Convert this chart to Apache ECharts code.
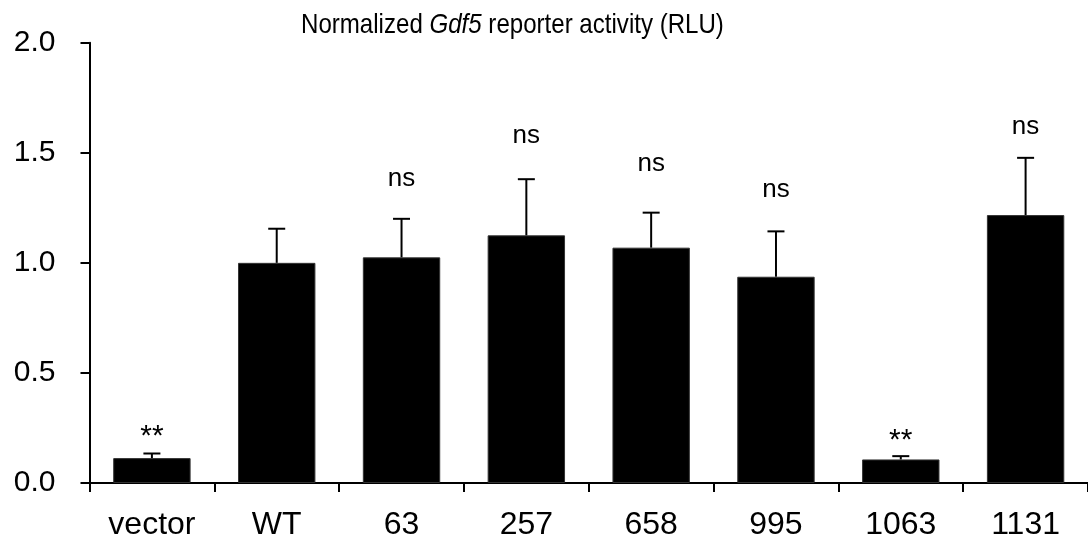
<!DOCTYPE html>
<html>
<head>
<meta charset="utf-8">
<script src="https://cdn.jsdelivr.net/npm/echarts@6/dist/echarts.min.js"></script>
<style>html,body{margin:0;padding:0;background:#fff;}#c{width:1088px;height:541px;}</style>
</head>
<body>
<div id="c"></div>
<script>
const categories = ['vector', 'WT', '63', '257', '658', '995', '1063', '1131'];
const means = [0.113, 1.0, 1.025, 1.125, 1.069, 0.937, 0.107, 1.217];
const errorTops = [0.134, 1.155, 1.20, 1.38, 1.228, 1.143, 0.122, 1.477];
const annotText = ['**', '', 'ns', 'ns', 'ns', 'ns', '**', 'ns'];
const annotY = [0.208, null, 1.381, 1.579, 1.451, 1.330, 0.193, 1.618];
const yTicks = [0, 0.5, 1.0, 1.5, 2.0];

const FONT = '"Liberation Sans", Arial, Helvetica, sans-serif';
const chart = echarts.init(document.getElementById('c'), null, {renderer: 'canvas'});

const errData = categories.map((c, i) => [i, means[i], errorTops[i]]);
const annData = categories.map((c, i) => [i, annotY[i], annotText[i]]).filter(d => d[2]);

chart.setOption({
  animation: false,
  backgroundColor: '#fff',
  graphic: [{
    type: 'text',
    x: 301, y: 11,
    scaleX: 0.86,
    originX: 0, originY: 0,
    style: {
      text: '{n|Normalized }{i|Gdf5}{n| reporter activity (RLU)}',
      fill: '#000',
      font: '28px ' + FONT,
      textVerticalAlign: 'top',
      rich: {
        n: {fontFamily: FONT, fontSize: 28, fill: '#000', color: '#000'},
        i: {fontFamily: FONT, fontSize: 28, fontStyle: 'italic', fill: '#000', color: '#000'}
      }
    }
  }],
  grid: {left: 89.5, top: 42.7, width: 1002, height: 441.3, containLabel: false},
  xAxis: {
    type: 'category',
    data: categories,
    boundaryGap: true,
    axisLine: {lineStyle: {color: '#000', width: 2}},
    axisTick: {show: true, length: 9, lineStyle: {color: '#000', width: 2}},
    axisLabel: {color: '#000', fontFamily: FONT, fontSize: 32, margin: 26}
  },
  yAxis: {
    type: 'value',
    min: yTicks[0], max: yTicks[yTicks.length - 1], interval: 0.5,
    axisLine: {show: true, lineStyle: {color: '#000', width: 2}},
    axisTick: {show: true, length: 9, lineStyle: {color: '#000', width: 2}},
    splitLine: {show: false},
    axisLabel: {color: '#000', fontFamily: FONT, fontSize: 30, margin: 34,
      formatter: v => v.toFixed(1)}
  },
  series: [
    {
      type: 'bar',
      data: means,
      barWidth: '62%',
      itemStyle: {color: '#000', borderColor: '#333', borderWidth: 1}
    },
    {
      type: 'custom',
      data: errData,
      z: 5,
      renderItem: function (params, api) {
        const i = api.value(0);
        const p0 = api.coord([i, api.value(1)]);
        const p1 = api.coord([i, api.value(2)]);
        const half = 8.5;
        const st = {stroke: '#000', lineWidth: 2};
        return {
          type: 'group',
          children: [
            {type: 'line', shape: {x1: p0[0], y1: p0[1], x2: p1[0], y2: p1[1]}, style: st},
            {type: 'line', shape: {x1: p1[0] - half, y1: p1[1], x2: p1[0] + half, y2: p1[1]}, style: st}
          ]
        };
      }
    },
    {
      type: 'custom',
      data: annData,
      z: 6,
      renderItem: function (params, api) {
        const i = api.value(0);
        const p = api.coord([i, api.value(1)]);
        const t = annData[params.dataIndex][2];
        return {
          type: 'text',
          x: p[0], y: p[1],
          style: {
            text: t,
            fill: '#000',
            font: (t === '**' ? '30px ' : '26px ') + FONT,
            textAlign: 'center',
            textVerticalAlign: 'middle'
          }
        };
      }
    }
  ]
});
</script>
</body>
</html>
